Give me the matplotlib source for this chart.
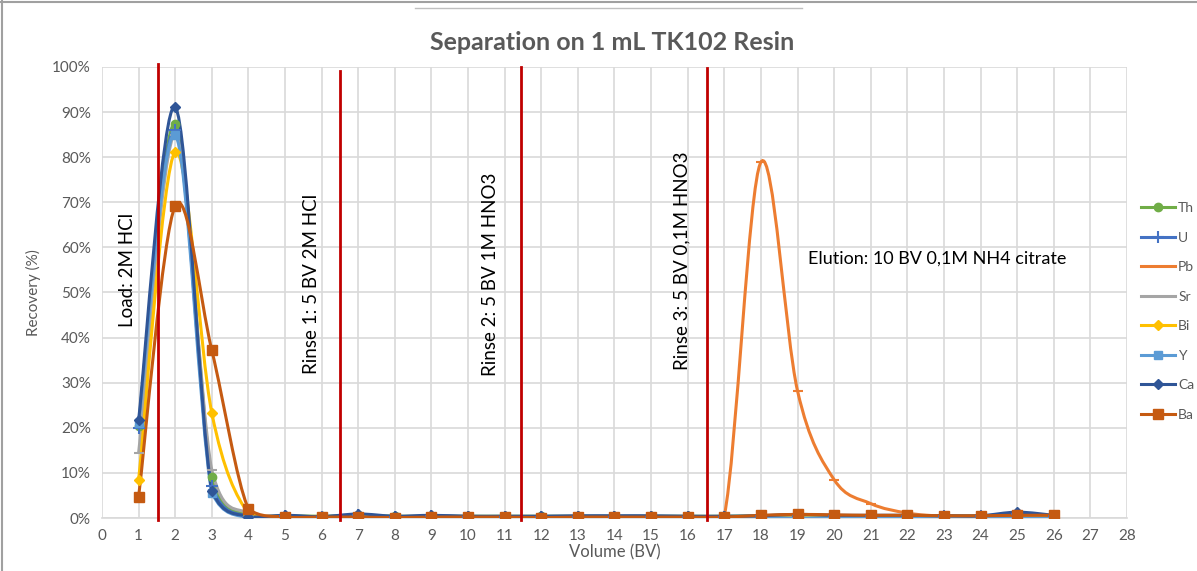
import numpy as np
import matplotlib.pyplot as plt
from matplotlib.path import Path
from matplotlib.patches import PathPatch
from matplotlib.lines import Line2D

plt.rcParams['font.family'] = ['Lato', 'DejaVu Sans']

# data (recovery % per bed volume)
volume = list(range(1, 27))
th = [20.5, 87.4, 9.1, 0.5, 0.5, 0.4, 0.6, 0.4, 0.4, 0.4, 0.4, 0.4, 0.4, 0.4, 0.4, 0.4, 0.4, 0.5, 0.6, 0.5, 0.5, 0.5, 0.5, 0.5, 0.8, 0.5]
u = [20.0, 86.0, 7.0, 0.3, 0.4, 0.3, 0.6, 0.3, 0.4, 0.3, 0.3, 0.3, 0.3, 0.3, 0.3, 0.3, 0.3, 0.4, 0.5, 0.4, 0.4, 0.4, 0.4, 0.4, 0.8, 0.4]
pb = [np.nan, np.nan, np.nan, 0.2, 0.2, 0.2, 0.2, 0.2, 0.2, 0.2, 0.2, 0.2, 0.2, 0.2, 0.2, 0.2, 0.5, 78.9, 28.2, 8.5, 3.2, 1.1, 0.4, 0.3, 0.3, 0.3]
sr = [14.4, 85.0, 10.6, 1.0, 0.4, 0.3, 0.5, 0.3, 0.4, 0.3, 0.3, 0.3, 0.3, 0.3, 0.3, 0.3, 0.3, 0.4, 0.5, 0.4, 0.4, 0.4, 0.4, 0.4, 0.6, 0.4]
bi = [8.4, 81.2, 23.3, 1.0, 0.3, 0.2, 0.3, 0.2, 0.3, 0.2, 0.2, 0.2, 0.2, 0.2, 0.2, 0.2, 0.2, 0.3, 0.3, 0.3, 0.3, 0.3, 0.3, 0.3, 0.4, 0.3]
y_ = [21.0, 85.0, 5.6, 0.0, 0.0, 0.0, 0.0, 0.0, 0.0, 0.0, 0.0, 0.0, 0.0, 0.0, 0.0, 0.0, 0.0, 0.0, 0.0, 0.0, 0.0, 0.0, 0.0, 0.0, 0.0, 0.0]
ca = [21.7, 91.1, 6.0, 0.3, 0.6, 0.3, 0.9, 0.4, 0.6, 0.4, 0.4, 0.4, 0.5, 0.5, 0.5, 0.4, 0.4, 0.5, 0.8, 0.6, 0.6, 0.6, 0.5, 0.5, 1.3, 0.6]
ba = [4.7, 69.2, 37.2, 2.0, 0.2, 0.2, 0.2, 0.1, 0.2, 0.2, 0.2, 0.1, 0.2, 0.2, 0.2, 0.2, 0.2, 0.6, 0.8, 0.7, 0.6, 0.6, 0.5, 0.5, 0.6, 0.6]

series = [
    ('Th', th, '#70AD47', 'o', 6),
    ('U', u, '#4472C4', '+', 8),
    ('Pb', pb, '#ED7D31', '_', 7),
    ('Sr', sr, '#A5A5A5', '_', 7),
    ('Bi', bi, '#FFC000', 'D', 5),
    ('Y', y_, '#5B9BD5', 's', 6),
    ('Ca', ca, '#2F5597', 'D', 5),
    ('Ba', ba, '#C55A11', 's', 7),
]

# step boundaries (BV) and their labels
step_x = [1.53, 6.5, 11.45, 16.53]
step_top = [100.6, 99.2, 100.0, 99.8]
step_labels = ['Load: 2M HCl', 'Rinse 1: 5 BV 2M HCl', 'Rinse 2: 5 BV 1M HNO3', 'Rinse 3: 5 BV 0,1M HNO3']
label_pos = [(0.71, 55), (5.71, 52), (10.6, 54), (15.84, 57)]


def smooth_path(xs, ys):
    # excel-like smoothed line as cubic bezier segments
    pts = np.column_stack([xs, ys]).astype(float)
    pts = pts[~np.isnan(pts[:, 1])]
    verts = [pts[0]]
    codes = [Path.MOVETO]
    n = len(pts)
    for i in range(n - 1):
        p0 = pts[i - 1] if i > 0 else pts[i]
        p1 = pts[i]
        p2 = pts[i + 1]
        p3 = pts[i + 2] if i + 2 < n else pts[i + 1]
        c1 = p1 + (p2 - p0) / 6
        c2 = p2 - (p3 - p1) / 6
        c1[1] = max(c1[1], 0)
        c2[1] = max(c2[1], 0)
        verts += [c1, c2, p2]
        codes += [Path.CURVE4] * 3
    return Path(verts, codes)


fig = plt.figure(figsize=(11.97, 5.71), dpi=100)
ax = fig.add_axes([0.0852, 0.0928, 0.8563, 0.7899])

for name, vals, color, marker, ms in series:
    ax.add_patch(PathPatch(smooth_path(volume, vals), facecolor='none',
                           edgecolor=color, lw=2.2, zorder=3))
    ax.plot(volume, vals, linestyle='none', marker=marker, color=color,
            markersize=ms, markeredgewidth=1.5 if marker in '+_' else 1, zorder=4)

for x, top in zip(step_x, step_top):
    ax.plot([x, x], [-0.4, top], color='#C00000', lw=2, zorder=5, clip_on=False)

for (lx, ly), text in zip(label_pos, step_labels):
    ax.text(lx, ly, text, rotation=90, ha='center', va='center', fontsize=13.5, color='black')

ax.text(19.28, 57.6, 'Elution: 10 BV 0,1M NH4 citrate', ha='left', va='center', fontsize=13, color='black')

ax.set_xlim(0, 28)
ax.set_ylim(0, 100)
ax.set_xticks(range(0, 29))
ax.set_yticks(range(0, 101, 10))
ax.set_yticklabels([f'{v}%' for v in range(0, 101, 10)])
ax.grid(True, color='#D9D9D9', lw=1.2)
ax.set_axisbelow(True)
for s in ['top', 'right', 'left']:
    ax.spines[s].set_visible(False)
ax.spines['bottom'].set_color('#D9D9D9')
ax.spines['bottom'].set_linewidth(1.2)
ax.tick_params(length=0, labelsize=11, colors='#595959', pad=8)
ax.set_xlabel('Volume (BV)', fontsize=12, color='#595959', labelpad=1)
ax.set_ylabel('Recovery (%)', fontsize=11, color='#595959', labelpad=8)

fig.suptitle('Separation on 1 mL TK102 Resin', x=0.511, y=0.926, va='center',
             fontsize=18, fontweight='bold', color='#595959')

handles = [Line2D([], [], color=c, lw=2.2, marker=m, markersize=ms,
                  markeredgewidth=1.5 if m in '+_' else 1)
           for _, _, c, m, ms in series]
handles[2] = Line2D([], [], color='#ED7D31', lw=2.2)
handles[3] = Line2D([], [], color='#A5A5A5', lw=2.2)
leg = fig.legend(handles, [s[0] for s in series], loc='center left',
                 bbox_to_anchor=(0.953, 0.4545), frameon=False, fontsize=10,
                 handlelength=2.5, handletextpad=0.2, labelspacing=1.26,
                 borderpad=0, borderaxespad=0)
for t in leg.get_texts():
    t.set_color('#595959')

# frame edges of the screenshot
fig.add_artist(Line2D([0.002, 0.002], [0, 1], color='#A0A0A0', lw=1.5))
fig.add_artist(Line2D([0, 1], [0.997, 0.997], color='#A0A0A0', lw=1.5))
fig.add_artist(Line2D([0.347, 0.67], [0.986, 0.986], color='#BFBFBF', lw=1))

fig.savefig('out.png', dpi=100)
